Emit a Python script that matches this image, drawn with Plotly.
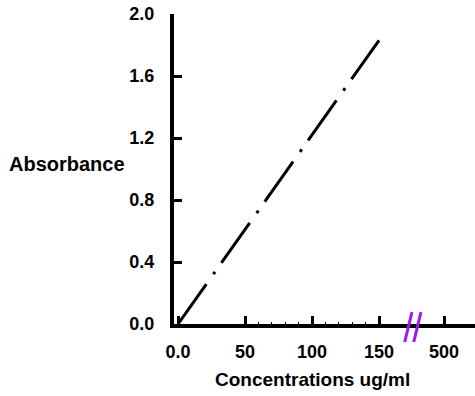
import plotly.graph_objects as go

# Data
concentration = [0, 150]          # ug/ml
absorbance = [0, 1.83]

y_ticks = [0.0, 0.4, 0.8, 1.2, 1.6, 2.0]
y_tick_labels = ["0.0", "0.4", "0.8", "1.2", "1.6", "2.0"]
x_ticks = [0, 50, 100, 150, 198.5]
x_tick_labels = ["0.0", "50", "100", "150", "500"]
x_minor_ticks = [60, 70, 80, 90, 110, 120, 130, 140]
axis_break_at = 175

x_range = [-3, 221.6]
y_range = [0, 2.0]

FONT = "Liberation Sans, Arial, sans-serif"

fig = go.Figure()
fig.add_trace(go.Scatter(
    x=concentration, y=absorbance, mode="lines",
    line=dict(color="black", width=3, dash="49px,12px,3px,11px"),
    showlegend=False, hoverinfo="skip",
))

bx = (axis_break_at - x_range[0]) / (x_range[1] - x_range[0])
for dx in (0.0, 0.03):
    fig.add_shape(type="line", xref="paper", yref="paper",
                  x0=bx - 0.026 + dx, y0=-0.058, x1=bx - 0.002 + dx, y1=0.038,
                  line=dict(color="#9B19F5", width=3))

fig.update_layout(
    width=475, height=396,
    margin=dict(l=174, r=0, t=14, b=72),
    plot_bgcolor="white", paper_bgcolor="white",
    font=dict(family=FONT, color="black"),
    xaxis=dict(
        range=x_range, tickmode="array", tickvals=x_ticks, ticktext=x_tick_labels,
        showgrid=False, zeroline=False, showline=True, linecolor="black", linewidth=4,
        ticks="inside", ticklen=8, tickwidth=3, tickcolor="black",
        tickfont=dict(family=FONT, size=18, color="black", weight="bold"),
        ticklabelstandoff=8,
        minor=dict(tickmode="array", tickvals=x_minor_ticks, ticks="inside",
                   ticklen=2, tickwidth=1, tickcolor="black", showgrid=False),
    ),
    yaxis=dict(
        range=y_range, tickmode="array", tickvals=y_ticks, ticktext=y_tick_labels,
        showgrid=False, zeroline=False, showline=True, linecolor="black", linewidth=4,
        ticks="inside", ticklen=8, tickwidth=3, tickcolor="black",
        tickfont=dict(family=FONT, size=18, color="black", weight="bold"),
        ticklabelstandoff=12,
    ),
    annotations=[
        dict(text="Absorbance", xref="paper", yref="paper",
             x=-0.555, y=0.515, xanchor="left", yanchor="middle", showarrow=False,
             font=dict(family=FONT, size=20, color="black", weight="bold")),
        dict(text="Concentrations ug/ml", xref="paper", yref="paper",
             x=0.46, y=-0.18, xanchor="center", yanchor="middle", showarrow=False,
             font=dict(family=FONT, size=19, color="black", weight="bold")),
    ],
)

fig.write_html("out.html")
